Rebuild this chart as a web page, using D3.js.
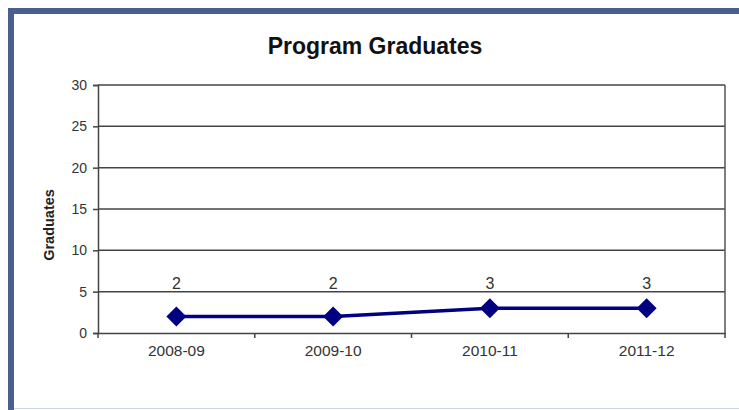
<!DOCTYPE html>
<html><head><meta charset="utf-8">
<script src="https://cdn.jsdelivr.net/npm/d3@7"></script>
<style>body{margin:0;background:#fff;} svg{display:block;}</style>
</head><body>
<svg id="c" width="739" height="410"></svg>
<script>
const title = "Program Graduates";
const yLabel = "Graduates";
const categories = ["2008-09", "2009-10", "2010-11", "2011-12"];
const graduates = [2, 2, 3, 3];
const yTicks = [0, 5, 10, 15, 20, 25, 30];

const FONT = "Liberation Sans, Arial, sans-serif";
const svg = d3.select("#c");
// frame
svg.append("rect").attr("x", 0).attr("y", 0).attr("width", 739).attr("height", 410).attr("fill", "#fff");
svg.append("line").attr("x1", 8).attr("x2", 739).attr("y1", 11).attr("y2", 11).attr("stroke", "#4b5f8f").attr("stroke-width", 6);
svg.append("line").attr("x1", 11).attr("x2", 11).attr("y1", 8).attr("y2", 410).attr("stroke", "#4b5f8f").attr("stroke-width", 6);
svg.append("line").attr("x1", 14).attr("x2", 739).attr("y1", 408.5).attr("y2", 408.5).attr("stroke", "#c9d3e6").attr("stroke-width", 1);

const L = 98, R = 725, T = 85, B = 333;
const x = d3.scaleBand().domain(categories).range([L, R]);
const y = d3.scaleLinear().domain([0, 30]).range([B, T]);

svg.append("text").attr("x", 375).attr("y", 54).attr("text-anchor", "middle")
  .attr("font-family", FONT).attr("font-weight", "bold")
  .attr("font-size", 23).attr("fill", "#111").text(title);

// gridlines
svg.append("g").selectAll("line").data(yTicks.filter(d => d > 0)).join("line")
  .attr("x1", L).attr("x2", R).attr("y1", d => y(d)).attr("y2", d => y(d))
  .attr("stroke", "#444").attr("stroke-width", 1.5);
// right border
svg.append("line").attr("x1", R).attr("x2", R).attr("y1", T).attr("y2", B).attr("stroke", "#555").attr("stroke-width", 1.5);

// y axis
const ya = svg.append("g").attr("transform", `translate(${L},0)`)
  .call(d3.axisLeft(y).tickValues(yTicks).tickSize(5).tickPadding(6));
ya.select(".domain").attr("stroke", "#444").attr("stroke-width", 1.5);
ya.selectAll(".tick line").attr("stroke", "#444").attr("stroke-width", 1.5);
ya.selectAll("text").attr("font-family", FONT).attr("font-size", 14).attr("fill", "#333");

// x axis
const xa = svg.append("g").attr("transform", `translate(0,${B})`)
  .call(d3.axisBottom(x).tickSize(0).tickPadding(12));
xa.select(".domain").attr("stroke", "#444").attr("stroke-width", 1.5);
xa.selectAll("text").attr("font-family", FONT).attr("font-size", 15.5).attr("fill", "#333");
const bounds = categories.map(c => x(c)).concat([R]);
svg.append("g").selectAll("line").data(bounds).join("line")
  .attr("x1", d => d).attr("x2", d => d).attr("y1", B).attr("y2", B + 5)
  .attr("stroke", "#444").attr("stroke-width", 1.5);

svg.append("text").attr("transform", "translate(54,225) rotate(-90)").attr("text-anchor", "middle")
  .attr("font-family", FONT).attr("font-weight", "bold")
  .attr("font-size", 14.5).attr("fill", "#222").text(yLabel);

const cx = c => x(c) + x.bandwidth() / 2;
const line = d3.line().x((d, i) => cx(categories[i])).y(d => y(d));
svg.append("path").datum(graduates).attr("d", line).attr("fill", "none")
  .attr("stroke", "#000080").attr("stroke-width", 3.5);
svg.append("g").selectAll("path").data(graduates).join("path")
  .attr("d", "M0,-10L10,0L0,10L-10,0Z")
  .attr("transform", (d, i) => `translate(${cx(categories[i])},${y(d)})`)
  .attr("fill", "#000080");
svg.append("g").selectAll("text").data(graduates).join("text")
  .attr("x", (d, i) => cx(categories[i])).attr("y", 289).attr("text-anchor", "middle")
  .attr("font-family", FONT).attr("font-size", 16).attr("fill", "#333")
  .text(d => d);
</script>
</body></html>
